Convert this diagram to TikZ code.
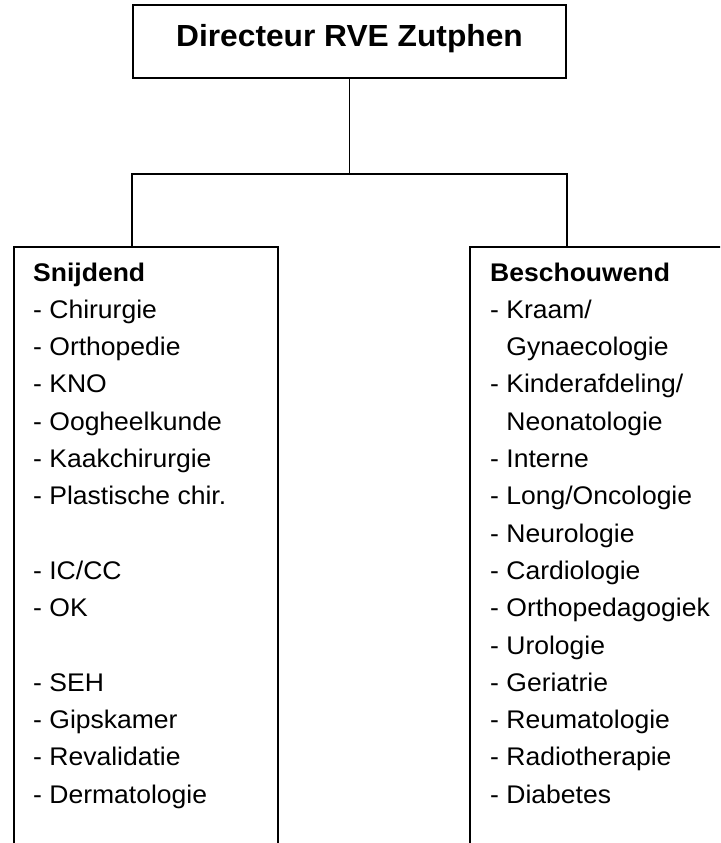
\documentclass[tikz,border=0pt]{standalone}
\usepackage{fontspec}
\setmainfont[FakeStretch=1.04]{Liberation Sans}
\begin{document}
\begin{tikzpicture}[x=1pt,y=-1pt,
  frame/.style={draw=black, line width=1.9pt, inner sep=0pt},
  link/.style={draw=black, line width=1.9pt},
  item/.style={anchor=base west, inner sep=0pt, font=\fontsize{25.5}{30}\selectfont},
  head/.style={item, font=\fontsize{25.5}{30}\selectfont\bfseries},
]
\useasboundingbox (0,0) rectangle (720,843);
\clip (0,0) rectangle (720,843);

% director box and its title
\node[frame, minimum width=433pt, minimum height=73pt] (dir) at (349.5,41.5) {};
\node[anchor=base, inner sep=0pt, font=\fontsize{30.5}{36}\selectfont\bfseries]
  (dirtitle) at (349.5,46.7) {Directeur RVE Zutphen};

% the two department boxes (open past the lower edge)
\node[frame, anchor=north west, minimum width=264pt, minimum height=640pt] (snij) at (13,246) {};
\node[frame, anchor=north west, minimum width=300pt, minimum height=640pt] (besch) at (469,246) {};

% connectors
\path (dir.south) ++(0,95) coordinate (bar);
\draw[link] (dir.south) -- (bar);
\draw[link] (snij.north -| dir.south west) |- (bar) -| (besch.north -| dir.south east);

% Snijdend
\node[head] (L0) at (33,281) {Snijdend};
\foreach \i/\t in {1/{Chirurgie}, 2/{Orthopedie}, 3/{KNO}, 4/{Oogheelkunde},
                   5/{Kaakchirurgie}, 6/{Plastische chir.}, 8/{IC/CC}, 9/{OK},
                   11/{SEH}, 12/{Gipskamer}, 13/{Revalidatie}, 14/{Dermatologie}}
  \node[item] (L\i) at (33,281+37.3*\i) {- \t};

% Beschouwend
\node[head] (R0) at (490,281) {Beschouwend};
\foreach \i/\t in {1/{- Kraam/}, 2/{\phantom{- }Gynaecologie},
                   3/{- Kinderafdeling/}, 4/{\phantom{- }Neonatologie},
                   5/{- Interne}, 6/{- Long/Oncologie}, 7/{- Neurologie},
                   8/{- Cardiologie}, 9/{- Orthopedagogiek}, 10/{- Urologie},
                   11/{- Geriatrie}, 12/{- Reumatologie}, 13/{- Radiotherapie},
                   14/{- Diabetes}}
  \node[item] (R\i) at (490,281+37.3*\i) {\t};
\end{tikzpicture}
\end{document}
